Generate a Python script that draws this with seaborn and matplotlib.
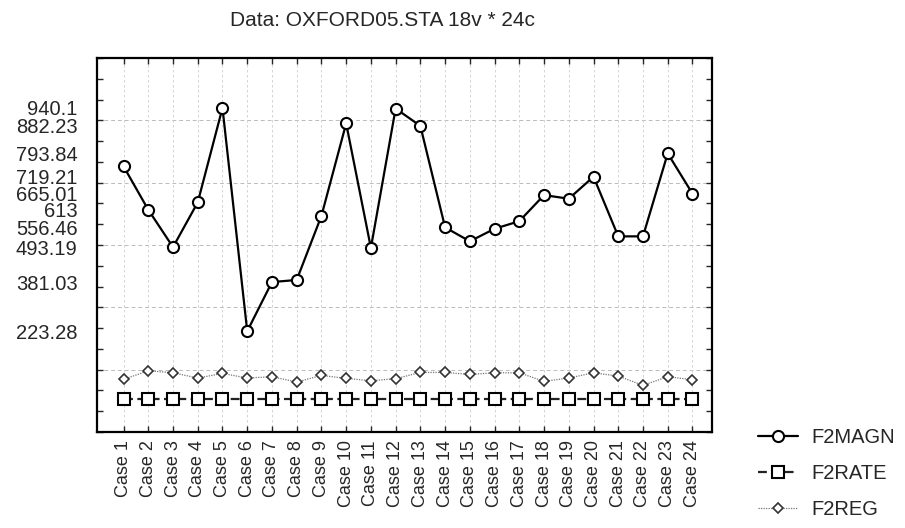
import numpy as np
import pandas as pd
import matplotlib
matplotlib.use('Agg')
import matplotlib.pyplot as plt
import seaborn as sns

# valores
cases = ['Case %d' % i for i in range(1, 25)]
f2magn = [752.4, 613, 493.19, 636.9, 940.1, 223.28, 381.03, 387.7, 593.4, 890.3, 490.6, 938.0,
          882.23, 556.46, 511.8, 552.1, 576.4, 660.2, 648.5, 719.21, 527.7, 527.7, 793.84, 665.01]
f2rate = [5.0, 5.0, 5.0, 5.0, 5.0, 5.0, 5.0, 5.0, 5.0, 5.0, 5.0, 5.0,
          5.0, 5.0, 5.0, 5.0, 5.0, 5.0, 5.0, 5.0, 5.0, 5.0, 5.0, 5.0]
f2reg = [68.6, 96.2, 89.8, 72.9, 87.7, 72.9, 77.1, 60.1, 81.3, 71.8, 64.4, 70.7,
         90.9, 90.9, 84.5, 89.8, 89.8, 62.2, 72.9, 89.8, 79.2, 49.5, 77.1, 67.5]
ytick_values = [940.1, 882.23, 793.84, 719.21, 665.01, 613, 556.46, 493.19, 381.03, 223.28]
ytick_labels = ['940.1', '882.23', '793.84', '719.21', '665.01', '613', '556.46', '493.19', '381.03', '223.28']
grid_values = [100, 300, 500, 700, 900]

df = pd.DataFrame({'case': cases, 'F2MAGN': f2magn, 'F2RATE': f2rate, 'F2REG': f2reg})

sns.set_style('white')
plt.rcParams['font.family'] = ['Liberation Sans', 'DejaVu Sans']

fig = plt.figure(figsize=(9.05, 5.28), dpi=100)
ax = fig.add_axes([0.107, 0.182, 0.680, 0.708])

sns.lineplot(data=df, x='case', y='F2MAGN', ax=ax, color='black', linewidth=1.6,
             marker='o', markersize=8, markerfacecolor='white', markeredgecolor='black',
             markeredgewidth=1.5, label='F2MAGN', sort=False)
sns.lineplot(data=df, x='case', y='F2RATE', ax=ax, color='#222222', linewidth=1.6,
             linestyle=(0, (4, 2)), marker='s', markersize=8, markerfacecolor='white',
             markeredgecolor='black', markeredgewidth=1.5, label='F2RATE', sort=False)
sns.lineplot(data=df, x='case', y='F2REG', ax=ax, color='#777777', linewidth=0.9,
             linestyle=(0, (1, 1)), marker='D', markersize=5, markerfacecolor='white',
             markeredgecolor='#333333', markeredgewidth=1.2, label='F2REG', sort=False)

ax.set_xlim(-1.08, 23.8)
ax.set_ylim(-100, 1100)
ax.set_xlabel('')
ax.set_ylabel('')

ax.set_yticks(ytick_values)
ax.set_yticklabels(ytick_labels, fontsize=14.5)
ax.set_yticks(np.arange(-100, 1100.1, 200 / 3), minor=True)
ax.tick_params(axis='y', which='major', length=0, pad=14)
ax.tick_params(axis='y', which='minor', length=4, direction='in', left=True, right=True, width=1)

ax.set_xticks(range(len(cases)))
ax.set_xticklabels(cases, rotation=90, fontsize=13)
ax.tick_params(axis='x', which='major', length=4, direction='in', top=True, bottom=True, width=1, pad=6)

for g in grid_values:
    ax.axhline(g, color='#bbbbbb', linestyle=(0, (4, 3)), linewidth=0.7, zorder=0)
for i in range(len(cases)):
    ax.axvline(i, color='#cccccc', linestyle=(0, (3, 3)), linewidth=0.6, zorder=0)

for s in ax.spines.values():
    s.set_color('black')
    s.set_linewidth(1.6)

handles, labels = ax.get_legend_handles_labels()
ax.get_legend().remove()
fig.legend(handles, labels, loc='upper left', bbox_to_anchor=(0.8376, 0.19), frameon=False,
           fontsize=14.5, handlelength=2.0, labelspacing=0.85, handletextpad=0.65, borderpad=0,
           borderaxespad=0)

fig.text(0.423, 0.962, 'Data: OXFORD05.STA 18v * 24c', ha='center', va='center', fontsize=15)

plt.savefig('out.png', dpi=100)
plt.close()
